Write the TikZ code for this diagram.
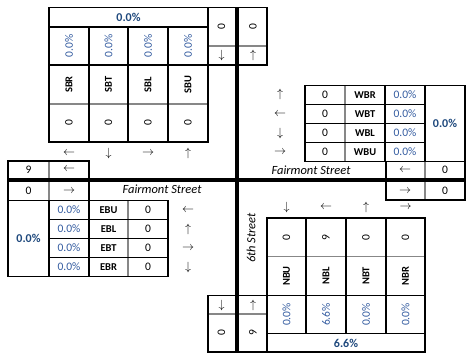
\documentclass[tikz,border=0pt]{standalone}
\usepackage{fontspec}
\setmainfont{Carlito}
\usepackage{tikz}
\usetikzlibrary{positioning}
\definecolor{pctblue}{RGB}{52,92,160}
\definecolor{totblue}{RGB}{31,73,125}
\definecolor{divgrey}{RGB}{135,135,135}
\tikzset{
  grid/.style={draw=black, line width=1.7pt},
  soft/.style={draw=divgrey, line width=1.3pt},
  street/.style={line width=4.5pt, line cap=butt},
  txt/.style={inner sep=0pt, font=\fontsize{11.5}{13}\selectfont},
  pct/.style={txt, text=pctblue},
  tot/.style={txt, text=totblue, font=\fontsize{12}{14}\selectfont\bfseries},
  lbl/.style={txt, font=\fontsize{10.5}{12}\selectfont\bfseries},
  arr/.style={txt, font=\fontsize{11.5}{13}\selectfont},
  strname/.style={txt, font=\fontsize{12.5}{14}\selectfont\itshape}
}

\begin{document}
\begin{tikzpicture}[x=1pt, y=-1pt]
  \useasboundingbox (0,0) rectangle (474,353);

  % --- Southbound (top left) ---
  \draw[soft] (49,104) -- (208,104);
  \draw[grid] (49,7.5) rectangle (208,142);
  \draw[grid] (49,27) -- (208,27);
  \draw[grid] (49,65) -- (208,65);
  \foreach \x in {89,128,168} \draw[grid] (\x,27) -- (\x,142);
  \node[tot] (sbtot) at (128.5,17.5) {0.0\%};
  \foreach \lab/\x/\a [count=\i] in {SBR/69/\leftarrow, SBT/108.5/\downarrow, SBL/148/\rightarrow, SBU/188/\uparrow} {
    \node[pct, rotate=90] (sbp\i) at (\x,46) {0.0\%};
    \node[lbl, rotate=90] (sbl\i) at (\x,84.5) {\lab};
    \node[txt, rotate=90] (sbv\i) at (\x,123) {0};
    \node[arr] (sba\i) at (\x,153) {$\a$};
  }

  % --- top in/out boxes ---
  \draw[soft] (208,46) -- (267,46);
  \draw[grid] (208,7.5) rectangle (237,65);
  \draw[grid] (237,7.5) rectangle (267,65);
  \node[txt, rotate=90] (nout) at (221.5,26.5) {0};
  \node[arr] (nouta) at (221.5,55.5) {$\downarrow$};
  \node[txt, rotate=90] (nin) at (253,26.5) {0};
  \node[arr] (nina) at (253,55.5) {$\uparrow$};

  % --- left in/out boxes ---
  \draw[soft] (49,161) -- (49,200.5);
  \draw[grid] (8,161) rectangle (89,180);
  \draw[grid] (8,180) rectangle (89,200.5);
  \node[txt] (wout) at (28.5,169.5) {9};
  \node[arr] (wouta) at (69,169.5) {$\leftarrow$};
  \node[txt] (win) at (28.5,191) {0};
  \node[arr] (wina) at (69,191) {$\rightarrow$};

  % --- Eastbound (bottom left) ---
  \draw[soft] (128,200.5) -- (128,276.5);
  \draw[grid] (8,200.5) rectangle (168,276.5);
  \foreach \x in {49,89} \draw[grid] (\x,200.5) -- (\x,276.5);
  \foreach \y in {219.5,238.5,257.5} \draw[grid] (49,\y) -- (168,\y);
  \node[tot] (ebtot) at (28.5,238.5) {0.0\%};
  \foreach \lab/\y/\a [count=\i] in {EBU/210/\leftarrow, EBL/229/\uparrow, EBT/248/\rightarrow, EBR/267/\downarrow} {
    \node[pct] (ebp\i) at (69,\y) {0.0\%};
    \node[lbl] (ebl\i) at (108.5,\y) {\lab};
    \node[txt] (ebv\i) at (148,\y) {0};
    \node[arr] (eba\i) at (188,\y) {$\a$};
  }

  % --- Westbound (top right) ---
  \draw[soft] (345,85.5) -- (345,161.5);
  \draw[grid] (305,85.5) rectangle (465,161.5);
  \foreach \x in {385,425} \draw[grid] (\x,85.5) -- (\x,161.5);
  \foreach \y in {104.5,123.5,142.5} \draw[grid] (305,\y) -- (425,\y);
  \node[tot] (wbtot) at (445,123.5) {0.0\%};
  \foreach \lab/\y/\a [count=\i] in {WBR/95/\uparrow, WBT/114/\leftarrow, WBL/133/\downarrow, WBU/152/\rightarrow} {
    \node[arr] (wba\i) at (280,\y) {$\a$};
    \node[txt] (wbv\i) at (325,\y) {0};
    \node[lbl] (wbl\i) at (365,\y) {\lab};
    \node[pct] (wbp\i) at (405,\y) {0.0\%};
  }

  % --- right in/out boxes ---
  \draw[soft] (425,161.5) -- (425,200);
  \draw[grid] (386,161.5) rectangle (465,180);
  \draw[grid] (386,180) rectangle (465,200);
  \node[arr] (eouta) at (405,170) {$\leftarrow$};
  \node[txt] (eout) at (445,170) {0};
  \node[arr] (eina) at (405,191) {$\rightarrow$};
  \node[txt] (ein) at (445,191) {0};

  % --- Northbound (bottom right) ---
  \draw[soft] (267,256.5) -- (425,256.5);
  \draw[grid] (267,218) rectangle (425,352);
  \draw[grid] (267,295.5) -- (425,295.5);
  \draw[grid] (267,333.5) -- (425,333.5);
  \foreach \x in {306,346,386} \draw[grid] (\x,218) -- (\x,333.5);
  \node[tot] (nbtot) at (346,343) {6.6\%};
  \foreach \lab/\x/\a/\v/\p [count=\i] in {NBU/286.5/\downarrow/0/0.0, NBL/326/\leftarrow/9/6.6, NBT/366/\uparrow/0/0.0, NBR/405.5/\rightarrow/0/0.0} {
    \node[arr] (nba\i) at (\x,207) {$\a$};
    \node[txt, rotate=90] (nbv\i) at (\x,237.5) {\v};
    \node[lbl, rotate=90] (nbl\i) at (\x,276) {\lab};
    \node[pct, rotate=90] (nbp\i) at (\x,314.5) {\p\%};
  }

  % --- bottom in/out boxes ---
  \draw[soft] (208,314) -- (266.5,314);
  \draw[grid] (208,295.5) rectangle (237,352);
  \draw[grid] (237,295.5) rectangle (266.5,352);
  \node[arr] (souta) at (221.5,305) {$\downarrow$};
  \node[txt, rotate=90] (sout) at (221.5,333) {0};
  \node[arr] (sina) at (253,305) {$\uparrow$};
  \node[txt, rotate=90] (sin) at (253,333) {9};

  % --- streets ---
  \draw[street] (8,180) -- (465,180);
  \draw[street] (237,7.5) -- (237,352);
  \node[strname] (fairw) at (162,189.5) {Fairmont Street};
  \node[strname] (faire) at (311,170) {Fairmont Street};
  \node[strname, rotate=90] (sixth) at (251,238) {6th Street};
\end{tikzpicture}
\end{document}
